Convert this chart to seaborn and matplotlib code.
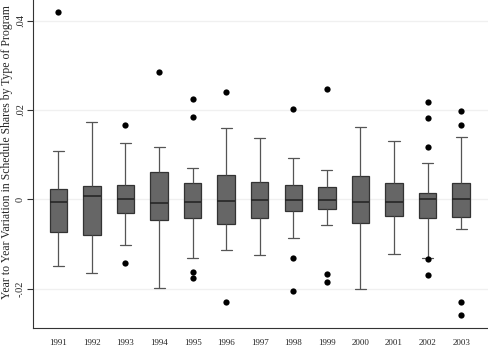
import numpy as np
import pandas as pd
import seaborn as sns
import matplotlib.pyplot as plt

years = ['1991', '1992', '1993', '1994', '1995', '1996', '1997',
         '1998', '1999', '2000', '2001', '2002', '2003']

# box summary per year: lower whisker, q1, median, q3, upper whisker
whisk_lo = [-0.0150, -0.0164, -0.0102, -0.0199, -0.0131, -0.0114, -0.0125,
            -0.0087, -0.0058, -0.0201, -0.0122, -0.0131, -0.0066]
q1 = [-0.0074, -0.0080, -0.0030, -0.0046, -0.0043, -0.0055, -0.0041,
      -0.0027, -0.0022, -0.0054, -0.0037, -0.0043, -0.0040]
median = [-0.0007, 0.0008, 0.0000, -0.0009, -0.0005, -0.0003, -0.0002,
          -0.0002, -0.0001, -0.0006, -0.0006, 0.0001, 0.0001]
q3 = [0.0023, 0.0030, 0.0033, 0.0060, 0.0036, 0.0055, 0.0038,
      0.0032, 0.0027, 0.0051, 0.0037, 0.0015, 0.0037]
whisk_hi = [0.0107, 0.0174, 0.0125, 0.0116, 0.0070, 0.0159, 0.0138,
            0.0093, 0.0066, 0.0161, 0.0130, 0.0082, 0.0139]

# outside values
outliers = {
    '1991': [0.0420],
    '1993': [0.0167, -0.0142],
    '1994': [0.0285],
    '1995': [0.0225, 0.0185, -0.0162, -0.0177],
    '1996': [0.0239, -0.0231],
    '1998': [0.0201, -0.0131, -0.0206],
    '1999': [0.0246, -0.0167, -0.0185],
    '2002': [0.0217, 0.0181, 0.0116, -0.0134, -0.0170],
    '2003': [0.0198, 0.0166, -0.0229, -0.0260],
}

rows = []
for i, y in enumerate(years):
    for v in [whisk_lo[i], q1[i], median[i], q3[i], whisk_hi[i]]:
        rows.append({'year': y, 'value': v})
box_df = pd.DataFrame(rows)

out_rows = [{'year': y, 'value': v} for y, vals in outliers.items() for v in vals]
out_df = pd.DataFrame(out_rows)

sns.set_style('white')
plt.rcParams['font.family'] = ['Liberation Serif', 'DejaVu Serif']

fig = plt.figure(figsize=(4.88, 3.5), dpi=100)
ax = fig.add_axes([0.068, 0.063, 0.932, 0.937])

for t in [-0.02, 0, 0.02, 0.04]:
    ax.axhline(t, color='#f0f0f0', lw=1, zorder=0)

sns.boxplot(data=box_df, x='year', y='value', order=years, whis=(0, 100),
            showfliers=False, width=0.52, color='#666666', ax=ax,
            linecolor='#333333', linewidth=0.9, capwidths=0.33,
            boxprops=dict(facecolor='#666666', edgecolor='#333333'),
            whiskerprops=dict(color='#555555'),
            capprops=dict(color='#555555'),
            medianprops=dict(color='#222222', linewidth=1.1))
sns.stripplot(data=out_df, x='year', y='value', order=years, jitter=False,
              color='black', size=4.5, ax=ax, zorder=5)

ax.set_xlim(-0.75, 12.8)
ax.set_ylim(-0.0288, 0.0446)
ax.set_yticks([-0.02, 0, 0.02, 0.04])
ax.set_yticklabels(['-.02', '0', '.02', '.04'], rotation=90, va='center', fontsize=7.5)
ax.tick_params(axis='y', length=4, width=0.8, color='#333333', pad=2, left=True)
ax.tick_params(axis='x', length=0, labelsize=6.5, pad=8)
ax.set_xlabel('')
ax.set_ylabel('Year to Year Variation in Schedule Shares by Type of Program',
              fontsize=8.5, labelpad=3)
ax.yaxis.set_label_coords(-0.045, 0.535)
sns.despine(ax=ax, top=True, right=True)
ax.spines['left'].set_color('#333333')
ax.spines['bottom'].set_color('#333333')

fig.savefig('out.png', dpi=100)
